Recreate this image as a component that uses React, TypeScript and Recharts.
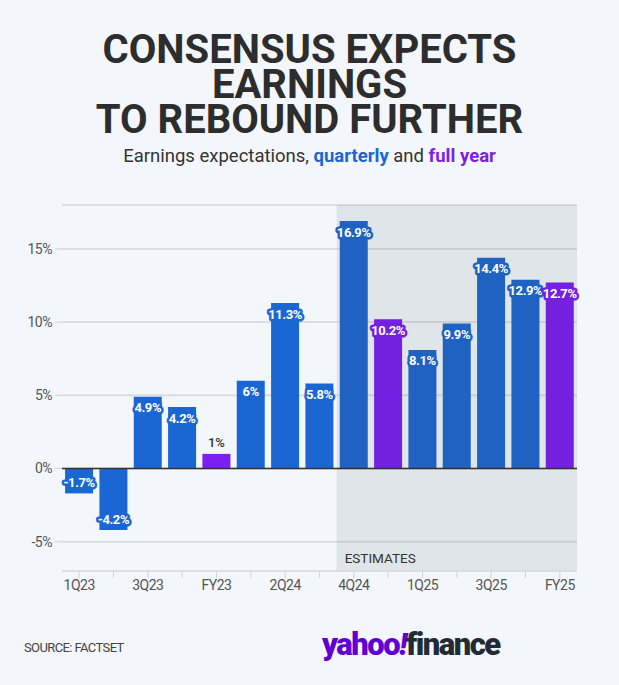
import React from 'react'
import {
  Bar,
  BarChart,
  CartesianGrid,
  Cell,
  LabelList,
  ReferenceArea,
  ReferenceLine,
  XAxis,
  YAxis,
} from 'recharts'

const periods = ['1Q23', '2Q23', '3Q23', '4Q23', 'FY23', '1Q24', '2Q24', '3Q24', '4Q24', 'FY24', '1Q25', '2Q25', '3Q25', '4Q25', 'FY25']
const growth = [-1.7, -4.2, 4.9, 4.2, 1, 6, 11.3, 5.8, 16.9, 10.2, 8.1, 9.9, 14.4, 12.9, 12.7]
const yTicks = [-5, 0, 5, 10, 15]
const yDomain = [-7, 18]
const estimateStart = '4Q24'
const estimateEnd = 'FY25'

const BLUE = '#1a67d4'
const PURPLE = '#7a20f2'
const BLUE_EST = '#1f62c2'
const PURPLE_EST = '#7320e0'
const font = 'Roboto, "Noto Sans", sans-serif'

const data = periods.map((period, i) => ({ period, growth: growth[i] }))

const isFullYear = (p: string) => p.startsWith('FY')
const firstEstimate = periods.indexOf(estimateStart)

function barColor(i: number) {
  const est = i >= firstEstimate
  if (isFullYear(periods[i])) return est ? PURPLE_EST : PURPLE
  return est ? BLUE_EST : BLUE
}

function BarTag(props: any) {
  const vb = props.viewBox ?? props
  const { x, y, width, height } = vb
  const value = Number(props.value)
  const idx = props.index ?? 0
  const color = barColor(idx)
  const top = Math.min(y, y + height)
  const bottom = Math.max(y, y + height)
  const cx = x + width / 2
  const text = `${value}%`

  if (bottom - top < 20) {
    // too short, put it outside the bar
    const ty = value >= 0 ? top - 11 : bottom + 11
    return (
      <text x={cx} y={ty} textAnchor="middle" dominantBaseline="central" fill="#333" fontSize={13} fontWeight={500} fontFamily={font}>
        {text}
      </text>
    )
  }
  const ty = value >= 0 ? top + 11 : bottom - 11
  return (
    <text
      x={cx}
      y={ty}
      textAnchor="middle"
      dominantBaseline="central"
      fill="#fff"
      stroke={color}
      strokeWidth={5}
      strokeLinejoin="round"
      paintOrder="stroke"
      fontSize={13}
      fontWeight={700}
      fontFamily={font}
      letterSpacing={-0.4}
    >
      {text}
    </text>
  )
}

const tickStyle = { fill: '#555', fontSize: 14, fontFamily: font, letterSpacing: -0.5 }

export default function App() {
  return (
    <div style={{ position: 'absolute', left: 0, top: 0, width: 619, height: 685, background: '#f3f6fa', fontFamily: font, overflow: 'hidden' }}>
      <div style={{ position: 'absolute', top: 32, left: 0, width: '100%', textAlign: 'center', fontSize: 40, fontWeight: 700, lineHeight: '35px', color: '#2d2d2d' }}>
        CONSENSUS EXPECTS
        <br />
        EARNINGS
        <br />
        TO REBOUND FURTHER
      </div>
      <div style={{ position: 'absolute', top: 145, left: 0, width: '100%', textAlign: 'center', fontSize: 18.5, lineHeight: '22px', color: '#333' }}>
        Earnings expectations, <b style={{ color: '#1a66d6' }}>quarterly</b> and <b style={{ color: '#7b1fe8' }}>full year</b>
      </div>

      <div style={{ position: 'absolute', top: 190, left: 0 }}>
        <BarChart width={619} height={420} data={data} margin={{ top: 15, right: 42, bottom: 9, left: 12 }} barCategoryGap="9%">
          <CartesianGrid vertical={false} stroke="#dcdde0" strokeWidth={2} />
          <XAxis
            dataKey="period"
            interval={0}
            height={30}
            tickSize={7}
            tickLine={{ stroke: '#cfd1d4' }}
            axisLine={{ stroke: '#dcdde0', strokeWidth: 2 }}
            tick={tickStyle}
            tickFormatter={(v: string, i: number) => (i % 2 === 0 ? v : '')}
          />
          <YAxis
            width={50}
            domain={yDomain}
            ticks={yTicks}
            axisLine={false}
            tickSize={7}
            tickMargin={3}
            tickLine={{ stroke: '#cfd1d4' }}
            tick={tickStyle}
            tickFormatter={(v: number) => `${v}%`}
          />
          <ReferenceArea
            x1={estimateStart}
            x2={estimateEnd}
            y1={yDomain[0]}
            y2={yDomain[1]}
            ifOverflow="visible"
            fill="#3c4a58"
            fillOpacity={0.1}
            stroke="none"
            label={{ value: 'ESTIMATES', position: 'insideBottomLeft', offset: 8, fill: '#333', fontSize: 13.5, fontFamily: font }}
          />
          <Bar dataKey="growth" isAnimationActive={false}>
            {data.map((d, i) => (
              <Cell key={d.period} fill={barColor(i)} />
            ))}
            <LabelList dataKey="growth" content={BarTag} />
          </Bar>
          <ReferenceLine y={0} stroke="#333" strokeWidth={1.5} />
        </BarChart>
      </div>

      <div style={{ position: 'absolute', left: 24, top: 640, fontSize: 13, color: '#444', letterSpacing: -0.6 }}>SOURCE: FACTSET</div>
      <div style={{ position: 'absolute', left: 322, top: 627, fontSize: 31, fontWeight: 900, letterSpacing: -1.5, lineHeight: '36px' }}>
        <span style={{ color: '#6001d2' }}>yahoo<i>!</i></span>
        <span style={{ color: '#232a31' }}>finance</span>
      </div>
    </div>
  )
}
